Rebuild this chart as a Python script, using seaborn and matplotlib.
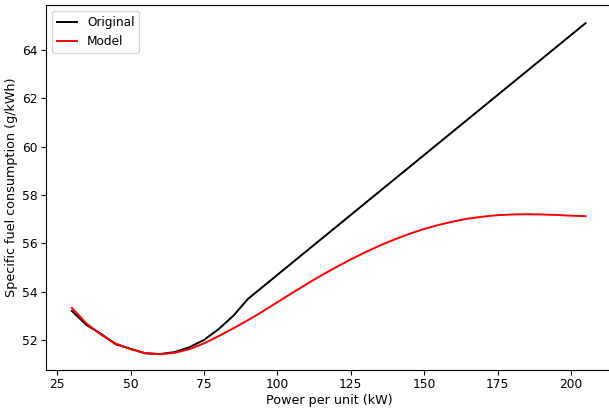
import matplotlib
matplotlib.use("Agg")
import matplotlib.pyplot as plt
import seaborn as sns
import pandas as pd

orig_x = [30, 35, 40, 45, 50, 55, 60, 65, 70, 75, 80, 85, 90, 205]
orig_y = [53.20, 52.62, 52.25, 51.82, 51.64, 51.45, 51.42, 51.50, 51.70, 52.00, 52.45, 53.00, 53.70, 65.10]

model_x = [30, 35, 40, 45, 50, 55, 60, 65, 70, 75, 80, 85, 90, 95, 100, 105, 110, 115, 120,
           125, 130, 135, 140, 145, 150, 155, 160, 165, 170, 175, 180, 185, 190, 195, 200, 205]
model_y = [53.33, 52.68, 52.22, 51.85, 51.62, 51.46, 51.41, 51.47, 51.62, 51.86, 52.16, 52.48,
           52.82, 53.18, 53.56, 53.94, 54.31, 54.67, 55.01, 55.33, 55.63, 55.91, 56.16, 56.39,
           56.59, 56.76, 56.90, 57.02, 57.10, 57.16, 57.19, 57.20, 57.19, 57.17, 57.14, 57.12]

df_o = pd.DataFrame({"x": orig_x, "y": orig_y})
df_m = pd.DataFrame({"x": model_x, "y": model_y})

fig = plt.figure(figsize=(6.09, 4.12), dpi=100)
ax = fig.add_axes([46 / 609, 42 / 412, 566 / 609, 365 / 412])
sns.lineplot(data=df_o, x="x", y="y", color="black", label="Original", ax=ax, linewidth=1.4)
sns.lineplot(data=df_m, x="x", y="y", color="red", label="Model", ax=ax, linewidth=1.4)
ax.set_xlabel("Power per unit (kW)", fontsize=9.2, labelpad=2)
ax.set_ylabel("Specific fuel consumption (g/kWh)", fontsize=9.2, labelpad=3)
ax.tick_params(labelsize=8.8, length=3.5, pad=2.5)
ax.set_xticks([25, 50, 75, 100, 125, 150, 175, 200])
ax.set_yticks([52, 54, 56, 58, 60, 62, 64])
ax.set_xlim(21.2, 214.0)
ax.set_ylim(50.76, 65.85)
ax.legend(loc="upper left", fontsize=8.7, handlelength=1.7)
fig.savefig("out.png", dpi=100)
